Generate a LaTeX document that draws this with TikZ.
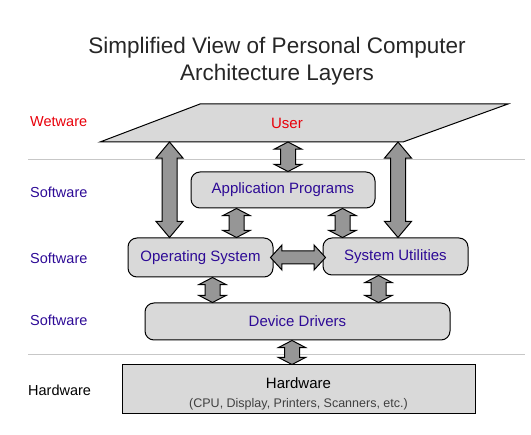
\documentclass[tikz,border=0pt]{standalone}
\usepackage{fontspec}
\setmainfont{Liberation Sans}
\usepackage{xcolor}
\usetikzlibrary{calc,shapes.arrows}

\definecolor{wetred}{RGB}{232,0,10}
\definecolor{softblue}{RGB}{45,10,150}
\definecolor{layergray}{RGB}{217,217,217}
\definecolor{arrowgray}{RGB}{150,150,150}

\tikzset{
  layer/.style={draw, line width=1pt, fill=layergray, rounded corners=9pt, inner sep=0pt, text=softblue, font=\fontsize{15}{18}\selectfont},
  levelname/.style={anchor=west, inner sep=0pt, text=softblue, font=\fontsize{14.5}{17}\selectfont},
  linkarrow/.style={double arrow, draw, line width=1pt, fill=arrowgray, inner xsep=0pt, inner ysep=7pt, double arrow head extend=6pt, double arrow tip angle=80},
  flathead/.style={double arrow tip angle=125},
  divider/.style={draw=black!22, line width=0.8pt}
}

\newcommand{\layerlink}[3][]{%
  \path let \p1=(#2), \p2=(#3), \n1={veclen(\x2-\x1,\y2-\y1)}, \n2={atan2(\y2-\y1,\x2-\x1)} in
    node[linkarrow, minimum height=\n1, rotate=\n2, #1] at ($(\p1)!.5!(\p2)$) {};}

\begin{document}
\begin{tikzpicture}[x=1pt, y=-1pt]

\useasboundingbox (0,0) rectangle (531,435);

\node[align=center, text=black!85, font=\fontsize{22.5}{27}\selectfont] (title) at (277,61) {Simplified View of Personal Computer\\Architecture Layers};

\draw[divider] (28,159) -- (525,159);
\draw[divider] (28,354) -- (525,354);

\node[levelname, text=wetred] (wet) at (30,122) {Wetware};
\node[levelname] (soft1) at (30,192) {Software};
\node[levelname] (soft2) at (30,258) {Software};
\node[levelname] (soft3) at (30,320) {Software};
\node[levelname, text=black] (hard) at (28,390) {Hardware};

\draw[line width=1pt, fill=layergray] (100,142) -- (200,104) -- (508,104) -- (403,142) -- cycle;
\node[text=wetred, font=\fontsize{15}{18}\selectfont] (user) at (287,123) {User};
\coordinate (ubase) at (0,142);

\node[layer, minimum width=184, minimum height=36] (app) at (283,190) {Application Programs};
\node[layer, minimum width=145, minimum height=39] (os) at (200.5,257.5) {Operating System};
\node[layer, minimum width=145, minimum height=37] (su) at (395.5,256.5) {System Utilities};
\node[layer, minimum width=305, minimum height=37] (dd) at (297.5,321.5) {Device Drivers};
\node[layer, rounded corners=0pt, minimum width=353, minimum height=49] (hw) at (298.5,389.5) {};
\node[align=center, font=\fontsize{15}{18}\selectfont] (hwtext) at ($(hw.center)+(0,4)$)
  {Hardware\\[1pt]{\fontsize{12.5}{14}\selectfont\color{black!75}(CPU, Display, Printers, Scanners, etc.)}};

\layerlink[flathead]{[xshift=5]app.north}{[xshift=5]app.north |- ubase}
\layerlink{[xshift=42]os.north west}{[xshift=42]os.north west |- ubase}
\layerlink{[xshift=2.5]su.north}{[xshift=2.5]su.north |- ubase}
\layerlink[flathead]{[xshift=46]app.south west}{[xshift=46]app.south west |- os.north}
\layerlink[flathead]{[xshift=-33]app.south east}{[xshift=-33]app.south east |- su.north}
\layerlink[double arrow tip angle=95, inner ysep=6pt]{[xshift=-3]os.east}{[xshift=3]os.east -| su.west}
\layerlink[flathead]{[xshift=85]os.south west}{[xshift=85]os.south west |- dd.north}
\layerlink[flathead]{[xshift=-90]su.south east}{[xshift=-90]su.south east |- dd.north}
\layerlink[flathead]{[xshift=-5.5]dd.south}{[xshift=-5.5]dd.south |- hw.north}

\end{tikzpicture}
\end{document}
